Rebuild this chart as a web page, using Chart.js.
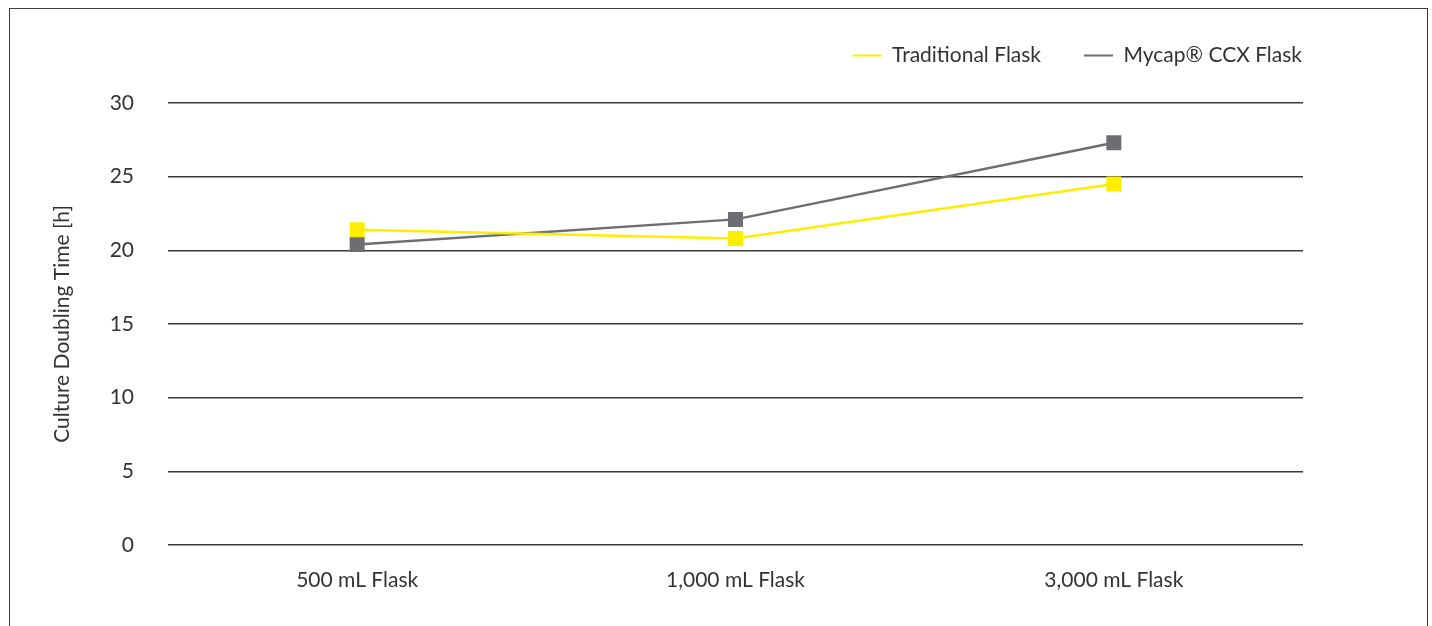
<!DOCTYPE html>
<html>
<head>
<meta charset="utf-8">
<script src="https://cdn.jsdelivr.net/npm/chart.js@4.4.1/dist/chart.umd.min.js"></script>
<style>
  html, body { margin: 0; padding: 0; background: #ffffff; }
  #wrap { position: relative; width: 1432px; height: 626px; overflow: hidden; }
  #frame {
    position: absolute; left: 9px; top: 8px; width: 1419px; height: 700px;
    box-sizing: border-box; border: 1.5px solid #3d3d3d; border-bottom: none;
    pointer-events: none;
  }
  canvas { position: absolute; left: 0; top: 0; }
</style>
</head>
<body>
<div id="wrap">
  <canvas id="chart" width="1432" height="626"></canvas>
  <div id="frame"></div>
</div>
<script>
// Flask sizes on the x axis
const categories = ['500 mL Flask', '1,000 mL Flask', '3,000 mL Flask'];
// Culture doubling time in hours
const traditionalFlask = [21.4, 20.8, 24.5];
const mycapFlask = [20.4, 22.1, 27.3];
const yTicks = [0, 5, 10, 15, 20, 25, 30];

const YELLOW = '#FFED00';
const GREY = '#6d6e71';
const TEXT = '#333333';
const GRID = '#3a3a3a';

Chart.defaults.font.family = 'Lato, "DejaVu Sans", sans-serif';
Chart.defaults.color = TEXT;

const baseLabels = Chart.defaults.plugins.legend.labels.generateLabels;

new Chart(document.getElementById('chart'), {
  type: 'line',
  data: {
    labels: categories,
    datasets: [
      {
        label: 'Traditional Flask',
        data: traditionalFlask,
        borderColor: YELLOW,
        backgroundColor: YELLOW,
        borderWidth: 2.5,
        pointStyle: 'rect',
        pointRadius: 10.6,
        pointBorderWidth: 0,
        pointBackgroundColor: YELLOW,
        tension: 0
      },
      {
        label: 'Mycap® CCX Flask',
        data: mycapFlask,
        borderColor: GREY,
        backgroundColor: GREY,
        borderWidth: 2.4,
        pointStyle: 'rect',
        pointRadius: 10.6,
        pointBorderWidth: 0,
        pointBackgroundColor: GREY,
        tension: 0
      }
    ]
  },
  options: {
    responsive: false,
    animation: false,
    events: [],
    layout: { padding: { left: 50, right: 87, top: 2, bottom: 0 } },
    plugins: {
      tooltip: { enabled: false },
      legend: {
        position: 'top',
        align: 'end',
        labels: {
          boxWidth: 29,
          boxHeight: 2,
          padding: 43,
          color: TEXT,
          font: { size: 21 },
          generateLabels(chart) {
            return baseLabels(chart).map(l => Object.assign(l, { lineWidth: 0 }));
          }
        }
      }
    },
    scales: {
      x: {
        type: 'category',
        position: 'bottom',
        offset: true,
        grid: { display: false, drawTicks: false },
        border: { display: false },
        ticks: { padding: 23, font: { size: 21 }, color: TEXT },
        afterFit(scale) { scale.height = 81; }
      },
      xTop: {
        type: 'category',
        position: 'top',
        labels: categories,
        grid: { display: false, drawTicks: false },
        border: { display: false },
        ticks: { display: false },
        afterFit(scale) { scale.height = 27; }
      },
      y: {
        position: 'left',
        min: 0,
        max: 30,
        afterBuildTicks(scale) { scale.ticks = yTicks.map(v => ({ value: v })); },
        grid: { color: GRID, lineWidth: 1.5, drawTicks: false },
        border: { display: false },
        ticks: { padding: 34, font: { size: 21 }, color: TEXT },
        title: {
          display: true,
          text: 'Culture Doubling Time [h]',
          font: { size: 21 },
          color: TEXT,
          padding: { top: 0, bottom: 0 }
        },
        afterFit(scale) { scale.width = 118; }
      },
      yRight: {
        type: 'linear',
        position: 'right',
        grid: { display: false, drawTicks: false },
        border: { display: false },
        ticks: { display: false },
        afterFit(scale) { scale.width = 42; }
      }
    }
  }
});
</script>
</body>
</html>
